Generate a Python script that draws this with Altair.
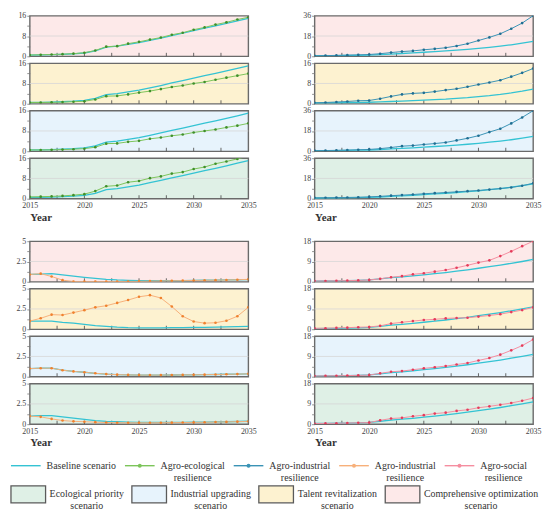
import altair as alt
import pandas as pd

YEARS = list(range(2015, 2036))
X_LABEL_YEARS = [2015, 2020, 2025, 2030, 2035]
X_INNER_TICKS = [2017.5, 2020, 2022.5, 2025, 2027.5, 2030, 2032.5]

# scenario order from top to bottom within each group
SCENARIOS = ["Comprehensive optimization scenario", "Talent revitalization scenario",
             "Industrial upgrading scenario", "Ecological priority scenario"]
SCENARIO_BG = ["#fde9e9", "#fdf2d0", "#e7f3fc", "#dff0e6"]

# ---------- Agro-ecological resilience (top-left, y max 16)
ECO_BASE = [0.5, 0.55, 0.65, 0.8, 1.0, 1.3, 2.1, 3.6, 4.0, 4.7, 5.4, 6.3, 7.2, 8.2, 9.1, 10.1, 11.1, 12.0, 13.0, 14.0, 15.0]
ECO_COMP = [0.5, 0.6, 0.7, 0.85, 1.05, 1.4, 2.3, 3.8, 4.0, 5.0, 5.7, 6.6, 7.4, 8.5, 9.3, 10.5, 11.4, 12.5, 13.4, 14.5, 15.4]
ECO_TALENT = [0.5, 0.5, 0.55, 0.65, 0.8, 1.0, 1.7, 3.0, 3.1, 3.7, 4.4, 5.0, 5.8, 6.6, 7.2, 8.0, 8.6, 9.5, 10.3, 11.1, 11.9]
ECO_INDUSTRY = [0.5, 0.5, 0.55, 0.65, 0.8, 1.0, 1.6, 3.0, 3.1, 3.7, 4.1, 4.9, 5.4, 6.1, 6.6, 7.4, 8.0, 8.6, 9.4, 10.1, 11.0]
ECO_ECOLOGY = [0.7, 0.8, 0.9, 1.1, 1.4, 1.8, 3.0, 4.9, 5.2, 6.5, 7.0, 8.1, 8.8, 9.9, 10.5, 11.7, 12.5, 13.8, 14.7, 15.7, 16.8]

# ---------- Agro-industrial resilience (top-right)
IND_BASE = [0.4, 0.5, 0.6, 0.7, 0.9, 1.1, 1.5, 2.0, 2.5, 3.0, 3.6, 4.2, 4.8, 5.5, 6.2, 7.0, 8.0, 9.0, 10.2, 11.6, 13.2]
IND_BASE_TALENT = [0.3, 0.35, 0.4, 0.45, 0.5, 0.6, 0.75, 0.9, 1.05, 1.2, 1.4, 1.6, 1.8, 2.1, 2.4, 2.8, 3.2, 3.7, 4.3, 5.0, 5.8]
IND_COMP = [0.5, 0.6, 0.8, 1.0, 1.3, 1.6, 2.3, 3.3, 4.2, 4.8, 5.8, 6.6, 7.6, 9.2, 11.2, 14.0, 16.8, 20.0, 24.5, 29.5, 36.0]
IND_TALENT = [0.4, 0.5, 0.7, 0.9, 1.2, 1.3, 2.0, 2.9, 3.7, 4.1, 4.3, 4.8, 5.4, 5.9, 6.7, 7.6, 8.4, 9.3, 10.7, 12.2, 13.9]
IND_INDUSTRY = [0.5, 0.6, 0.8, 1.0, 1.3, 1.6, 2.3, 3.3, 4.5, 5.0, 6.0, 6.8, 7.8, 9.6, 11.5, 13.8, 17.0, 20.0, 24.7, 30.0, 36.0]
IND_ECOLOGY = [0.8, 0.9, 1.0, 1.1, 1.3, 1.6, 2.1, 2.7, 3.2, 3.7, 4.4, 4.9, 5.5, 6.1, 6.7, 7.3, 8.1, 9.0, 10.0, 11.5, 13.7]
IND_YMAX = [36, 16, 36, 36]

# ---------- Agro-industrial resilience, orange (bottom-left, y max 5)
ORG_BASE_COMP = [0.9, 0.95, 1.0, 0.85, 0.7, 0.55, 0.42, 0.3, 0.22, 0.17, 0.14, 0.13, 0.13, 0.14, 0.15, 0.17, 0.19, 0.21, 0.23, 0.25, 0.27]
ORG_BASE_TALENT = [1.0, 1.0, 1.0, 0.85, 0.75, 0.6, 0.45, 0.35, 0.25, 0.2, 0.18, 0.18, 0.18, 0.19, 0.2, 0.22, 0.24, 0.26, 0.28, 0.31, 0.35]
ORG_BASE_INDUSTRY = [1.0, 1.05, 1.05, 0.8, 0.65, 0.55, 0.42, 0.32, 0.25, 0.22, 0.2, 0.2, 0.2, 0.21, 0.22, 0.23, 0.25, 0.27, 0.3, 0.32, 0.35]
ORG_BASE_ECOLOGY = [1.0, 1.05, 1.05, 0.9, 0.75, 0.6, 0.45, 0.35, 0.3, 0.25, 0.22, 0.21, 0.21, 0.22, 0.23, 0.24, 0.26, 0.28, 0.3, 0.33, 0.36]
ORG_COMP = [0.9, 1.0, 0.65, 0.2, 0.03, 0.02, 0.02, 0.03, 0.03, 0.04, 0.05, 0.08, 0.1, 0.12, 0.14, 0.16, 0.18, 0.2, 0.22, 0.25, 0.3]
ORG_TALENT = [1.0, 1.35, 1.8, 1.75, 2.05, 2.35, 2.7, 2.9, 3.25, 3.6, 4.0, 4.2, 3.85, 2.8, 1.6, 0.95, 0.75, 0.8, 1.05, 1.6, 2.7]
ORG_INDUSTRY = [1.0, 1.05, 1.05, 0.8, 0.65, 0.55, 0.42, 0.32, 0.25, 0.22, 0.2, 0.2, 0.2, 0.21, 0.22, 0.23, 0.25, 0.27, 0.3, 0.32, 0.35]
ORG_ECOLOGY = [1.0, 0.9, 0.65, 0.45, 0.35, 0.3, 0.25, 0.2, 0.18, 0.17, 0.17, 0.17, 0.18, 0.19, 0.2, 0.22, 0.24, 0.26, 0.28, 0.31, 0.35]

# ---------- Agro-social resilience (bottom-right, y max 18)
SOC_BASE = [0.3, 0.35, 0.4, 0.5, 0.6, 0.8, 1.3, 1.8, 2.2, 2.6, 3.1, 3.6, 4.1, 4.7, 5.3, 6.0, 6.7, 7.4, 8.2, 9.0, 9.9]
SOC_COMP = [0.3, 0.35, 0.4, 0.5, 0.6, 0.8, 1.3, 2.0, 2.5, 3.3, 3.8, 4.5, 5.2, 6.2, 7.3, 8.5, 9.5, 11.4, 13.5, 15.8, 18.0]
SOC_TALENT = [0.4, 0.45, 0.6, 0.7, 0.9, 1.0, 1.5, 2.5, 3.1, 3.6, 4.1, 4.4, 4.8, 5.0, 5.1, 5.6, 6.1, 6.7, 7.6, 8.5, 9.7]
SOC_INDUSTRY = [0.3, 0.35, 0.4, 0.5, 0.6, 0.7, 1.5, 2.2, 2.5, 3.1, 3.7, 4.2, 4.7, 5.4, 6.1, 7.2, 8.3, 9.8, 11.7, 13.8, 16.5]
SOC_ECOLOGY = [0.3, 0.35, 0.4, 0.5, 0.6, 0.7, 1.7, 2.5, 2.8, 3.5, 4.0, 4.7, 5.1, 5.9, 6.4, 7.3, 7.9, 8.6, 9.4, 10.4, 11.6]

# ---------- legend text
LINE_LABELS = ["Baseline scenario", "Agro-ecological\nresilience", "Agro-industrial\nresilience",
               "Agro-industrial\nresilience", "Agro-social\nresilience"]
BOX_LABELS = ["Ecological priority\nscenario", "Industrial upgrading\nscenario",
              "Talent revitalization\nscenario", "Comprehensive optimization\nscenario"]

# ---------- styles
SERIF = "Liberation Serif"
CYAN = "#34c3d3"
GREEN_LINE, GREEN_PT = "#7cc45a", "#3f8f2a"
BLUE_LINE, BLUE_PT = "#3a93b5", "#1f6e92"
ORANGE_LINE, ORANGE_PT = "#f7b07a", "#f0822e"
RED_LINE, RED_PT = "#f58ea0", "#e53b5a"
FRAME = "#6a6a6a"
W, H = 221, 41
AXIS_EXT = 19
XS = alt.Scale(domain=[2015, 2035], nice=False, zero=False)


def fmt(v):
    return "%g" % v


def panel(base, vals, ymax, line_c, pt_c, bg, bottom):
    df = pd.DataFrame({"year": YEARS, "base": base, "val": vals})
    q = ymax / 4.0
    yvals = [0, q, 2 * q, 3 * q, ymax]
    mid = ymax / 2.0
    lab = (f"datum.value == 0 ? '0' : (abs(datum.value - {mid}) < 1e-6 ? '{fmt(mid)}' : "
           f"(abs(datum.value - {ymax}) < 1e-6 ? '{fmt(ymax)}' : ''))")
    yax = alt.Axis(values=yvals, labelExpr=lab, tickSize=3, tickColor="#777", tickWidth=0.8,
                   domain=False, grid=False, labelFont=SERIF, labelFontSize=8, labelColor="#444",
                   labelPadding=1, title=None, minExtent=AXIS_EXT, maxExtent=AXIS_EXT)
    ys = alt.Scale(domain=[0, ymax], nice=False, zero=True)
    if bottom:
        xax = alt.Axis(values=X_LABEL_YEARS, format="d", ticks=False, domain=False, grid=False,
                       labelFont=SERIF, labelFontSize=8, labelColor="#444", labelPadding=3,
                       labelFlush=False, title="Year", titleFont=SERIF, titleFontSize=11,
                       titleFontWeight="bold", titleColor="#333", titleAnchor="start",
                       titleAlign="left", titlePadding=2)
    else:
        xax = None
    X = alt.X("year:Q", scale=XS, axis=xax)

    grid = alt.Chart(pd.DataFrame({"v": [mid]})).mark_rule(
        color="#d6d6d6", strokeWidth=0.8).encode(y=alt.Y("v:Q", scale=ys, axis=yax))
    ticks = alt.Chart(pd.DataFrame({"year": X_INNER_TICKS})).mark_rule(
        color="#555", strokeWidth=0.9).encode(x=X, y=alt.value(H), y2=alt.value(H - 3.5))
    bl = alt.Chart(df).mark_line(color=CYAN, strokeWidth=1.3, clip=True).encode(
        x=X, y=alt.Y("base:Q", scale=ys, axis=yax))
    ln = alt.Chart(df).mark_line(color=line_c, strokeWidth=1, clip=True).encode(
        x=X, y=alt.Y("val:Q", scale=ys, axis=yax))
    pt = alt.Chart(df).mark_circle(color=pt_c, size=7, opacity=1, clip=True).encode(
        x=X, y=alt.Y("val:Q", scale=ys, axis=yax))
    return alt.layer(grid, ticks, bl, ln, pt).properties(
        width=W, height=H,
        view=alt.ViewBackground(fill=bg, stroke=FRAME, strokeWidth=1.4))


def group(bases, series, ymaxes, line_c, pt_c):
    panels = []
    for k in range(4):
        panels.append(panel(bases[k], series[k], ymaxes[k], line_c, pt_c,
                            SCENARIO_BG[k], k == 3))
    return alt.vconcat(*panels, spacing=7, bounds="flush")


g_tl = group([ECO_BASE] * 4, [ECO_COMP, ECO_TALENT, ECO_INDUSTRY, ECO_ECOLOGY],
             [16, 16, 16, 16], GREEN_LINE, GREEN_PT)
g_tr = group([IND_BASE, IND_BASE_TALENT, IND_BASE, IND_BASE],
             [IND_COMP, IND_TALENT, IND_INDUSTRY, IND_ECOLOGY], IND_YMAX, BLUE_LINE, BLUE_PT)
g_bl = group([ORG_BASE_COMP, ORG_BASE_TALENT, ORG_BASE_INDUSTRY, ORG_BASE_ECOLOGY],
             [ORG_COMP, ORG_TALENT, ORG_INDUSTRY, ORG_ECOLOGY], [5, 5, 5, 5],
             ORANGE_LINE, ORANGE_PT)
g_br = group([SOC_BASE] * 4, [SOC_COMP, SOC_TALENT, SOC_INDUSTRY, SOC_ECOLOGY],
             [18, 18, 18, 18], RED_LINE, RED_PT)

row_top = alt.hconcat(g_tl, g_tr, spacing=38)
row_bot = alt.hconcat(g_bl, g_br, spacing=38)

# ---------- legend (flow layout computed from approximate serif glyph widths)
# the legend's origin is aligned with the plot areas, so it starts AXIS_EXT to the left
LW, LH = 500, 50
FS = 10
_GLYPH = {"a": 444, "b": 500, "c": 444, "d": 500, "e": 444, "f": 333, "g": 500, "h": 500,
          "i": 278, "j": 278, "k": 500, "l": 278, "m": 778, "n": 500, "o": 500, "p": 500,
          "q": 500, "r": 333, "s": 389, "t": 278, "u": 500, "v": 500, "w": 722, "x": 500,
          "y": 500, "z": 444, " ": 250, "-": 333, "A": 722, "B": 667, "C": 667, "E": 611,
          "I": 333, "T": 611}


def text_w(label):
    return max(sum(_GLYPH.get(ch, 500) for ch in s) for s in label.split("\n")) * FS / 1000.0


SYM_L = 30
line_cols = [CYAN, GREEN_LINE, BLUE_LINE, ORANGE_LINE, RED_LINE]
dot_cols = [None, GREEN_PT, BLUE_PT, ORANGE_PT, RED_PT]
rows1 = []
pos = -float(AXIS_EXT)
for i, lab in enumerate(LINE_LABELS):
    w = text_w(lab)
    rows1.append({"id": f"l{i}", "label": lab, "sx": pos + SYM_L / 2,
                  "tx": pos + SYM_L + 6 + w / 2, "row": 0, "dot": dot_cols[i] is not None})
    pos += SYM_L + 6 + w + 9
BOX_W, BOX_H = 35, 17
rows2 = []
pos = -float(AXIS_EXT)
box_cols = SCENARIO_BG[::-1]
for i, lab in enumerate(BOX_LABELS):
    w = text_w(lab)
    rows2.append({"id": f"b{i}", "label": lab, "sx": pos + BOX_W / 2,
                  "tx": pos + BOX_W + 4 + w / 2, "row": 1})
    pos += BOX_W + 4 + w + 8
d1 = pd.DataFrame(rows1)
d2 = pd.DataFrame(rows2)

LX = alt.Scale(domain=[0, LW], range=[0, LW])
LY = alt.Scale(domain=[0, 1], range=[15, 44])
line_scale = alt.Scale(domain=[r["id"] for r in rows1], range=line_cols)
dot_scale = alt.Scale(domain=[r["id"] for r in rows1 if r["dot"]],
                      range=[c for c in dot_cols if c is not None])
box_scale = alt.Scale(domain=[r["id"] for r in rows2], range=box_cols)
box_path = f"M-1,-{BOX_H / BOX_W:.3f}L1,-{BOX_H / BOX_W:.3f}L1,{BOX_H / BOX_W:.3f}L-1,{BOX_H / BOX_W:.3f}Z"

leg_lines = alt.Chart(d1).mark_point(shape="M-1,0L1,0", size=SYM_L * SYM_L, filled=False,
                                     strokeWidth=1.4, opacity=1).encode(
    x=alt.X("sx:Q", scale=LX, axis=None), y=alt.Y("row:Q", scale=LY, axis=None),
    color=alt.Color("id:N", scale=line_scale, legend=None))
leg_dots = alt.Chart(d1).transform_filter("datum.dot").mark_circle(size=16, opacity=1).encode(
    x=alt.X("sx:Q", scale=LX, axis=None), y=alt.Y("row:Q", scale=LY, axis=None),
    color=alt.Color("id:N", scale=dot_scale, legend=None))
leg_t1 = alt.Chart(d1).mark_text(align="center", baseline="middle", lineBreak="\n",
                                 font=SERIF, fontSize=FS, lineHeight=12, color="#333").encode(
    x=alt.X("tx:Q", scale=LX, axis=None), y=alt.Y("row:Q", scale=LY, axis=None), text="label:N")
leg_boxes = alt.Chart(d2).mark_point(shape=box_path, size=BOX_W * BOX_W,
                                     filled=True, stroke="#5a5a5a", strokeWidth=1.3,
                                     opacity=1).encode(
    x=alt.X("sx:Q", scale=LX, axis=None), y=alt.Y("row:Q", scale=LY, axis=None),
    fill=alt.Fill("id:N", scale=box_scale, legend=None))
leg_t2 = alt.Chart(d2).mark_text(align="center", baseline="middle", lineBreak="\n",
                                 font=SERIF, fontSize=FS, lineHeight=12, color="#333").encode(
    x=alt.X("tx:Q", scale=LX, axis=None), y=alt.Y("row:Q", scale=LY, axis=None), text="label:N")
legend = alt.layer(leg_lines, leg_dots, leg_t1, leg_boxes, leg_t2).properties(
    width=LW, height=LH, view=alt.ViewBackground(stroke="transparent"))

chart = alt.vconcat(alt.vconcat(row_top, row_bot, spacing=13), legend, spacing=2).properties(
    padding={"left": 0, "top": 0, "right": 0, "bottom": 0}
).configure(font=SERIF).configure_view(strokeWidth=0)

chart.save("out.html", embed_options={"renderer": "svg", "actions": False})
